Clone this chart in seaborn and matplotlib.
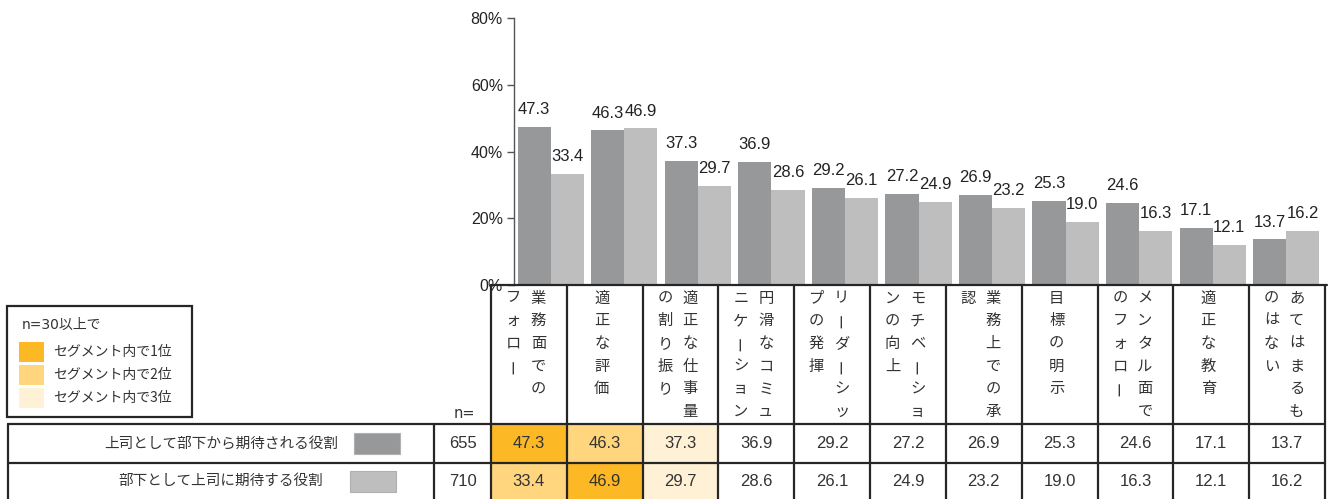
import matplotlib
matplotlib.use("Agg")
import numpy as np
import pandas as pd
import matplotlib.pyplot as plt
import seaborn as sns
from matplotlib.patches import Rectangle

# ---------------------------------------------------------------------------
# Data
# ---------------------------------------------------------------------------
# "\n" marks where the vertical label wraps to the next (left) column
CATEGORIES = [
    "業務面での\nフォロー", "適正な評価", "適正な仕事量\nの割り振り",
    "円滑なコミュ\nニケーション", "リーダーシッ\nプの発揮", "モチベーショ\nンの向上",
    "業務上での承\n認", "目標の明示", "メンタル面で\nのフォロー",
    "適正な教育", "あてはまるも\nのはない",
]
SERIES = ["上司として部下から期待される役割", "部下として上司に期待する役割"]
N_SIZES = [655, 710]
BOSS_VALUES = [47.3, 46.3, 37.3, 36.9, 29.2, 27.2, 26.9, 25.3, 24.6, 17.1, 13.7]
SUB_VALUES = [33.4, 46.9, 29.7, 28.6, 26.1, 24.9, 23.2, 19.0, 16.3, 12.1, 16.2]
Y_TICKS = [0, 20, 40, 60, 80]
LEGEND_TITLE = "n=30以上で"
RANK_LABELS = ["セグメント内で1位", "セグメント内で2位", "セグメント内で3位"]

SERIES_COLORS = ["#97989a", "#bdbebd"]
RANK_COLORS = ["#fdb825", "#ffd67e", "#fff1d5"]
LINE_COLOR = "#262626"
TEXT_COLOR = "#333333"
JP_FONT = ["Noto Sans CJK JP", "DejaVu Sans"]
WIDE_FONT = ["DejaVu Sans", "Noto Sans CJK JP"]

sns.set_theme(style="ticks")
plt.rcParams["font.family"] = ["Liberation Sans", "Noto Sans CJK JP", "DejaVu Sans"]

W, H = 1336, 499
fig = plt.figure(figsize=(W / 100, H / 100), dpi=100)

# ---------------------------------------------------------------------------
# Bar chart
# ---------------------------------------------------------------------------
ax_left, ax_right, ax_top, ax_bottom = 514, 1323, 18, 285
ax = fig.add_axes([ax_left / W, 1 - ax_bottom / H,
                   (ax_right - ax_left) / W, (ax_bottom - ax_top) / H])

cat_ids = [f"c{i}" for i in range(len(CATEGORIES))]
df = pd.DataFrame({
    "category": cat_ids * 2,
    "series": [SERIES[0]] * len(cat_ids) + [SERIES[1]] * len(cat_ids),
    "value": BOSS_VALUES + SUB_VALUES,
})
sns.barplot(data=df, x="category", y="value", hue="series", order=cat_ids,
            hue_order=SERIES, palette=SERIES_COLORS, saturation=1,
            width=0.9, gap=0, linewidth=0, errorbar=None, legend=False, ax=ax)

for cont in ax.containers:
    ax.bar_label(cont, fmt="%.1f", padding=7, fontsize=12, color="#222222")

ax.set_xlim(-0.5, len(CATEGORIES) - 0.5)
ax.set_ylim(0, 80)
ax.set_yticks(Y_TICKS)
ax.set_yticklabels([f"{t}%" for t in Y_TICKS], fontsize=11.5, color="#222222")
ax.set_xticks([])
ax.set_xlabel("")
ax.set_ylabel("")
ax.tick_params(axis="y", length=5, width=1, color="#555555", pad=3)
for side in ["top", "right", "bottom"]:
    ax.spines[side].set_visible(False)
ax.spines["left"].set_color("#555555")
ax.spines["left"].set_linewidth(1)
ax.patch.set_alpha(0)

# ---------------------------------------------------------------------------
# Table below the chart (pixel coordinates, y downwards)
# ---------------------------------------------------------------------------
tab = fig.add_axes([0, 0, 1, 1])
tab.set_xlim(0, W)
tab.set_ylim(H, 0)
tab.axis("off")

t_left, lab_right, n_right, t_right = 8, 434, 491, 1325
head_top, row_tops, t_bottom = 285, [424, 463], 502
col_w = (t_right - n_right) / len(CATEGORIES)
row_vals = [BOSS_VALUES, SUB_VALUES]

# highlighted cells: top 3 of each row
for r, vals in enumerate(row_vals):
    order = np.argsort(vals)[::-1][:3]
    for rank, c in enumerate(order):
        y0 = row_tops[r]
        y1 = row_tops[r + 1] if r + 1 < len(row_tops) else t_bottom
        tab.add_patch(Rectangle((n_right + c * col_w, y0), col_w, y1 - y0,
                                facecolor=RANK_COLORS[rank], edgecolor="none", zorder=1))

lw = 1.6
tab.plot([n_right, t_right + 2], [head_top, head_top], color=LINE_COLOR, lw=lw, zorder=3)
for y in row_tops:
    tab.plot([t_left, t_right], [y, y], color=LINE_COLOR, lw=lw, zorder=3)
for x in [t_left, lab_right]:
    tab.plot([x, x], [row_tops[0], t_bottom], color=LINE_COLOR, lw=lw, zorder=3)
for i in range(len(CATEGORIES) + 1):
    x = n_right + i * col_w
    tab.plot([x, x], [head_top, t_bottom], color=LINE_COLOR, lw=lw, zorder=3)

# vertical category labels, columns read right to left
char_pitch, first_y, col_gap = 22.7, 298, 25
for i, label in enumerate(CATEGORIES):
    cx = n_right + (i + 0.5) * col_w - 3
    cols = label.split("\n")
    xs = [cx] if len(cols) == 1 else [cx + col_gap / 2, cx - col_gap / 2]
    for x, col in zip(xs, cols):
        for j, ch in enumerate(col):
            tab.text(x, first_y + j * char_pitch, ch, ha="center", va="center",
                     fontsize=11, color=TEXT_COLOR, family=JP_FONT,
                     rotation=90 if ch == "ー" else 0, zorder=4)

# table rows
tab.text((n_right + lab_right) / 2 + 2, 413, "n=", ha="center", va="center",
         fontsize=10.5, color=TEXT_COLOR, family=WIDE_FONT)
sw_x = [354, 350]
for r, name in enumerate(SERIES):
    y0 = row_tops[r]
    y1 = row_tops[r + 1] if r + 1 < len(row_tops) else 499
    yc = (y0 + y1) / 2
    tab.text(221, yc, name, ha="center", va="center", fontsize=10.5,
             color=TEXT_COLOR, family=JP_FONT)
    tab.add_patch(Rectangle((sw_x[r], yc - 10.5), 46, 21, facecolor=SERIES_COLORS[r],
                            edgecolor="#b0b0b0", lw=0.8, zorder=2))
    tab.text((lab_right + n_right) / 2, yc, f"{N_SIZES[r]}", ha="center", va="center",
             fontsize=12, color=TEXT_COLOR)
    for c, v in enumerate(row_vals[r]):
        tab.text(n_right + (c + 0.5) * col_w, yc, f"{v:.1f}", ha="center", va="center",
                 fontsize=12, color=TEXT_COLOR, zorder=4)

# ranking legend box
tab.add_patch(Rectangle((7, 306), 185, 111, facecolor="none", edgecolor=LINE_COLOR,
                        lw=1.6, zorder=3))
tab.text(22, 325, LEGEND_TITLE, ha="left", va="center", fontsize=10,
         color=TEXT_COLOR, family=WIDE_FONT)
for k, lab in enumerate(RANK_LABELS):
    tab.add_patch(Rectangle((19, 342 + 23 * k), 25, 20, facecolor=RANK_COLORS[k],
                            edgecolor="none"))
    tab.text(53, 352 + 23 * k, lab, ha="left", va="center", fontsize=10,
             color=TEXT_COLOR, family=JP_FONT)

fig.savefig("out.png", dpi=100)
